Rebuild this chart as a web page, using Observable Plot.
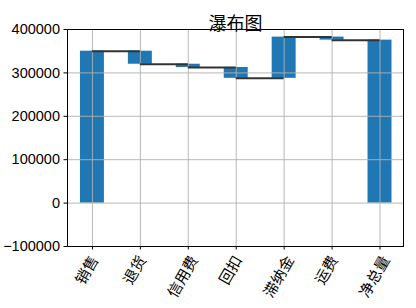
<!DOCTYPE html>
<html><head><meta charset="utf-8">
<script src="https://cdn.jsdelivr.net/npm/d3@7"></script>
<script src="https://cdn.jsdelivr.net/npm/@observablehq/plot@0.6"></script>
<style>body{margin:0;background:#fff}</style>
</head><body><div id="chart"></div>
<script>
const title = "瀑布图";
const categories = ["销售", "退货", "信用费", "回扣", "滞纳金", "运费", "净总量"];
const amounts = [350000, -30000, -7500, -25000, 95000, -7000];
const yTicks = [-100000, 0, 100000, 200000, 300000, 400000];

// waterfall table built from the arrays above
let running = 0;
const bars = amounts.map((v, i) => {
  const start = running;
  running += v;
  return {i, y1: start, y2: running};
});
bars.push({i: amounts.length, y1: 0, y2: running});
const steps = bars.slice(0, -1).map(b => ({x1: b.i, x2: b.i + 1, y: b.y2}));
const labels = categories.map((c, i) => ({i, c, n: [...c].length}));
const lengths = Array.from(new Set(labels.map(d => d.n)));

const FS = 15;
const font = "'Noto Sans CJK SC', 'Liberation Sans', sans-serif";

const chart = Plot.plot({
  width: 416,
  height: 308,
  marginLeft: 67,
  marginRight: 13,
  marginTop: 29,
  marginBottom: 62,
  style: {fontSize: "14.5px", fontFamily: "'Liberation Sans', Arial, sans-serif", background: "#fff", color: "#000"},
  x: {domain: [-0.52, 6.49], ticks: 7, tickFormat: () => "", tickSize: 3.5, label: null},
  y: {domain: [-100000, 400000], ticks: 5, tickFormat: "d", tickSize: 3.5, tickPadding: 4, label: null},
  marks: [
    Plot.rect(bars, {x1: d => d.i - 0.25, x2: d => d.i + 0.25, y1: "y1", y2: "y2", fill: "#1f77b4"}),
    Plot.ruleX(d3.range(categories.length), {stroke: "#b0b0b0", strokeWidth: 0.9}),
    Plot.ruleY(yTicks, {stroke: "#b0b0b0", strokeWidth: 0.9}),
    Plot.ruleY(steps, {x1: "x1", x2: "x2", y: "y", stroke: "#333", strokeWidth: 2}),
    Plot.frame({stroke: "#000", strokeWidth: 1}),
    ...lengths.map(n => Plot.text(labels.filter(d => d.n === n), {
      x: "i", text: "c", frameAnchor: "bottom", rotate: -60, textAnchor: "middle",
      dx: -1, dy: 9.5 + (0.866 * n * FS + 0.5 * FS) / 2,
      fontSize: FS, fontFamily: font, fill: "#000"
    })),
    Plot.text([title], {frameAnchor: "top", dy: -12.5, fontSize: 18, fontFamily: font, fill: "#000"})
  ]
});
document.getElementById("chart").append(chart);
</script>
</body></html>
